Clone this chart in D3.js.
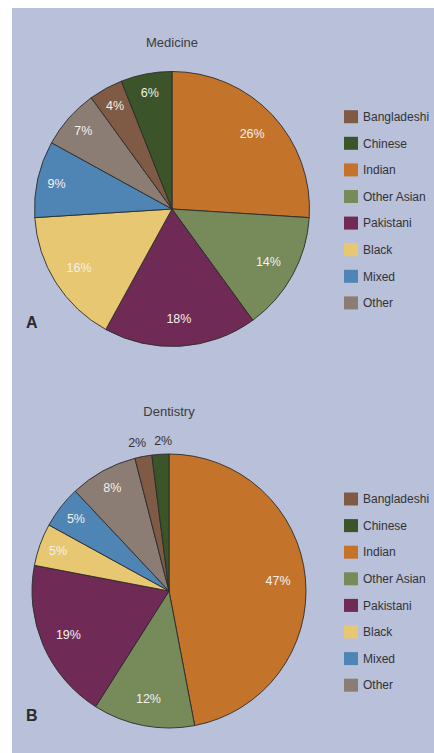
<!DOCTYPE html>
<html>
<head>
<meta charset="utf-8">
<script src="https://cdn.jsdelivr.net/npm/d3@7"></script>
<style>
  body { margin: 0; background: #fff; }
  svg { display: block; }
  text { font-family: "Liberation Sans", Arial, sans-serif; }
</style>
</head>
<body>
<div id="chart"></div>
<script>
// Ethnic groups, in the order the slices run clockwise from 12 o'clock
var groups = ["Indian", "Other Asian", "Pakistani", "Black", "Mixed", "Other", "Bangladeshi", "Chinese"];

// Order the legend lists them in
var legendOrder = ["Bangladeshi", "Chinese", "Indian", "Other Asian", "Pakistani", "Black", "Mixed", "Other"];

var groupColors = ["#c4742a", "#768a5a", "#6f2a55", "#e8c772", "#4f85b5", "#8b7c74", "#7f5a45", "#3b5429"];

// Percent shares, same order as groups
var medicine = [26, 14, 18, 16, 9, 7, 4, 6];
var dentistry = [47, 12, 19, 5, 5, 8, 2, 2];

var width = 434;
var height = 753;

var svg = d3.select("#chart")
  .append("svg")
    .attr("width", width)
    .attr("height", height);

// blue-grey panel behind everything
svg.append("rect")
  .attr("x", 12)
  .attr("y", 8)
  .attr("width", width - 12)
  .attr("height", height - 8)
  .attr("fill", "#b8c0da");

var color = d3.scaleOrdinal()
  .domain(groups)
  .range(groupColors);

var pie = d3.pie()
  .sort(null)
  .value(function(d) { return d.value; });

// draws one pie + title + letter + legend
function drawPie(values, opts) {
  var data = groups.map(function(g, i) {
    return { name: g, value: values[i] };
  });
  var arcs = pie(data);

  var g = svg.append("g")
    .attr("transform", "translate(" + opts.cx + "," + opts.cy + ")");

  var arc = d3.arc().innerRadius(0).outerRadius(opts.r);

  g.selectAll("path")
    .data(arcs)
    .enter()
    .append("path")
    .attr("d", arc)
    .attr("fill", function(d) { return color(d.data.name); })
    .attr("stroke", "#2b2b2b")
    .attr("stroke-width", 0.9);

  // label spots - tiny slices go outside the pie
  var prevOut = null;
  arcs.forEach(function(d) {
    var a = (d.startAngle + d.endAngle) / 2;
    d.outside = d.data.value <= 2;
    var k = d.outside ? 1.1 : (d.data.value < 10 ? 0.86 : 0.8);
    d.lx = Math.sin(a) * opts.r * k;
    d.ly = -Math.cos(a) * opts.r * k;
    if (d.outside) {
      // push neighbouring outside labels apart so they don't overlap
      if (prevOut && d.lx - prevOut.lx < 26) {
        var gap = (26 - (d.lx - prevOut.lx)) / 2;
        prevOut.lx -= gap;
        d.lx += gap;
      }
      prevOut = d;
    }
  });

  g.selectAll("text.pct")
    .data(arcs)
    .enter()
    .append("text")
    .attr("class", "pct")
    .attr("x", function(d) { return d.lx; })
    .attr("y", function(d) { return d.ly; })
    .attr("text-anchor", "middle")
    .attr("dy", "0.35em")
    .attr("font-size", 12.5)
    .attr("fill", function(d) { return d.outside ? "#333" : "#f4f1ea"; })
    .text(function(d) { return d.data.value + "%"; });

  svg.append("text")
    .attr("x", opts.cx)
    .attr("y", opts.titleY)
    .attr("text-anchor", "middle")
    .attr("font-size", 13)
    .attr("fill", "#3c3c3c")
    .text(opts.title);

  svg.append("text")
    .attr("x", 26)
    .attr("y", opts.letterY)
    .attr("font-size", 16)
    .attr("font-weight", "bold")
    .attr("fill", "#2a2a2a")
    .text(opts.letter);

  var y = d3.scalePoint()
    .domain(legendOrder)
    .range([opts.legendTop, opts.legendTop + 7 * 26.6]);

  var legend = svg.selectAll("g.leg-" + opts.letter)
    .data(legendOrder)
    .enter()
    .append("g")
    .attr("class", "leg-" + opts.letter)
    .attr("transform", function(d) { return "translate(344," + y(d) + ")"; });

  legend.append("rect")
    .attr("x", 0)
    .attr("y", -6.5)
    .attr("width", 14)
    .attr("height", 13)
    .attr("fill", function(d) { return color(d); });

  legend.append("text")
    .attr("x", 19)
    .attr("dy", "0.35em")
    .attr("font-size", 12)
    .attr("fill", "#333")
    .text(function(d) { return d; });
}

drawPie(medicine, { cx: 172, cy: 209, r: 137.5, title: "Medicine", titleY: 47, letter: "A", letterY: 328, legendTop: 116.7 });
drawPie(dentistry, { cx: 169, cy: 591, r: 137, title: "Dentistry", titleY: 416, letter: "B", letterY: 721, legendTop: 499 });
</script>
</body>
</html>
